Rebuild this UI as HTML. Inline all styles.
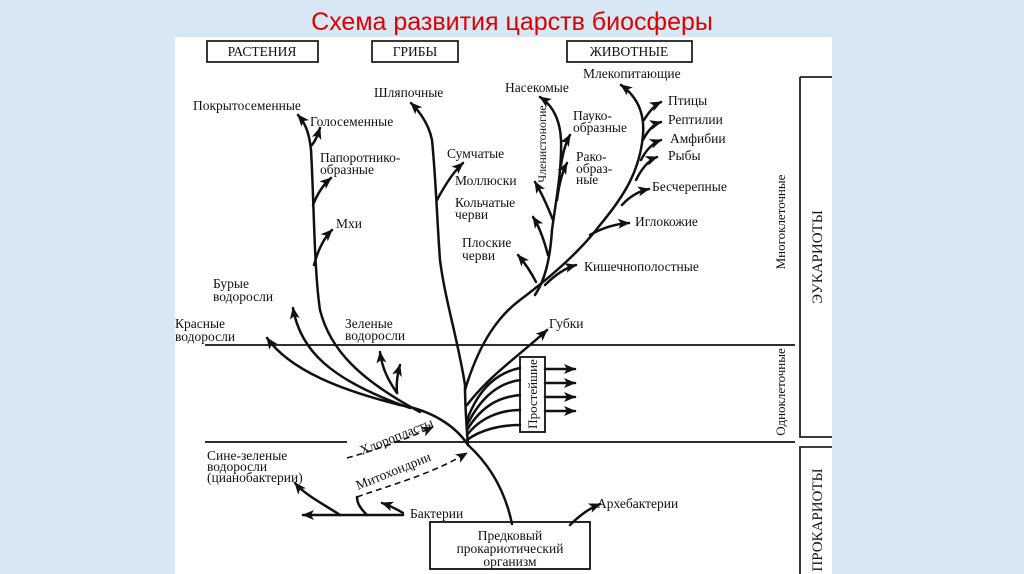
<!DOCTYPE html>
<html><head><meta charset="utf-8"><style>
html,body{margin:0;padding:0;width:1024px;height:574px;overflow:hidden;background:#d8e7f4;}
svg{display:block}
</style></head><body>
<svg width="1024" height="574" viewBox="0 0 1024 574" xmlns="http://www.w3.org/2000/svg">
<defs>
<marker id="a" markerWidth="12" markerHeight="10" refX="11" refY="5" orient="auto" markerUnits="userSpaceOnUse"><path d="M0,0 L12,5 L0,10 L3,5 z" fill="#111"/></marker>
</defs>
<rect width="1024" height="574" fill="#d8e7f4"/>
<rect x="175" y="37" width="657" height="537" fill="#fff"/>
<text x="512" y="30" font-family="Liberation Sans, sans-serif" font-size="25" fill="#e00000" text-anchor="middle">Схема развития царств биосферы</text>
<g font-family="Liberation Serif, serif" font-size="13.5" fill="#111">
<rect x="207" y="41" width="111" height="21" fill="none" stroke="#222" stroke-width="1.8"/>
<text x="262" y="56" text-anchor="middle">РАСТЕНИЯ</text>
<rect x="372" y="41" width="86" height="21" fill="none" stroke="#222" stroke-width="1.8"/>
<text x="415" y="56" text-anchor="middle">ГРИБЫ</text>
<rect x="567" y="41" width="125" height="21" fill="none" stroke="#222" stroke-width="1.8"/>
<text x="629" y="56" text-anchor="middle">ЖИВОТНЫЕ</text>
<path d="M800,77 H832 M800,77 V437 H832" fill="none" stroke="#222" stroke-width="1.8"/>
<path d="M832,447 H800 V574" fill="none" stroke="#222" stroke-width="1.8"/>
<line x1="205" y1="345" x2="795" y2="345" stroke="#111" stroke-width="1.8"/>
<line x1="205" y1="442" x2="347" y2="442" stroke="#111" stroke-width="1.8"/>
<line x1="394" y1="442" x2="795" y2="442" stroke="#111" stroke-width="1.8"/>
<rect x="430" y="522" width="160" height="47" fill="#fff" stroke="#111" stroke-width="1.8"/>
<text x="510" y="540" text-anchor="middle">Предковый</text>
<text x="510" y="553" text-anchor="middle">прокариотический</text>
<text x="510" y="566" text-anchor="middle">организм</text>
<rect x="520" y="357" width="25" height="75" fill="#fff" stroke="#111" stroke-width="1.8"/>
<text transform="translate(537,394) rotate(-90)" text-anchor="middle" font-size="13">Простейшие</text>
<text transform="translate(546,144) rotate(-90)" text-anchor="middle" font-size="12">Членистоногие</text>
<text transform="translate(785,222) rotate(-90)" text-anchor="middle" font-size="13">Многоклеточные</text>
<text transform="translate(785,392) rotate(-90)" text-anchor="middle" font-size="13">Одноклеточные</text>
<text transform="translate(822,257) rotate(-90)" text-anchor="middle" font-size="15">ЭУКАРИОТЫ</text>
<text transform="translate(822,520) rotate(-90)" text-anchor="middle" font-size="15">ПРОКАРИОТЫ</text>
<text x="583" y="78">Млекопитающие</text>
<text x="505" y="92">Насекомые</text>
<text x="374" y="97">Шляпочные</text>
<text x="193" y="110">Покрытосеменные</text>
<text x="310" y="126">Голосеменные</text>
<text x="668" y="105">Птицы</text>
<text x="668" y="124">Рептилии</text>
<text x="573" y="120">Пауко-</text><text x="573" y="132">образные</text>
<text x="670" y="143">Амфибии</text>
<text x="447" y="158">Сумчатые</text>
<text x="320" y="162">Папоротнико-</text><text x="320" y="174">образные</text>
<text x="668" y="160">Рыбы</text>
<text x="576" y="161">Рако-</text><text x="576" y="173">образ-</text><text x="576" y="184">ные</text>
<text x="455" y="185">Моллюски</text>
<text x="652" y="191">Бесчерепные</text>
<text x="455" y="207">Кольчатые</text><text x="455" y="219">черви</text>
<text x="635" y="226">Иглокожие</text>
<text x="336" y="228">Мхи</text>
<text x="462" y="247">Плоские</text><text x="462" y="260">черви</text>
<text x="584" y="271">Кишечнополостные</text>
<text x="213" y="288">Бурые</text><text x="213" y="301">водоросли</text>
<text x="175" y="328">Красные</text><text x="175" y="341">водоросли</text>
<text x="345" y="328">Зеленые</text><text x="345" y="340">водоросли</text>
<text x="549" y="328">Губки</text>
<text x="207" y="460">Сине-зеленые</text><text x="207" y="471">водоросли</text><text x="207" y="482">(цианобактерии)</text>
<text x="410" y="518">Бактерии</text>
<text x="597" y="508">Архебактерии</text>
<text transform="translate(362,455) rotate(-22)">Хлоропласты</text>
<text transform="translate(358,490) rotate(-22)">Митохондрии</text>
</g>
<g fill="none" stroke="#111" stroke-width="2.5" stroke-linecap="round">
<path d="M512,524 C505,490 490,465 468,445"/>
<path d="M468,445 C455,425 430,410 400,405"/>
<path d="M400,405 C340,390 290,370 267,338" marker-end="url(#a)"/>
<path d="M410,408 C330,380 300,350 293,308" marker-end="url(#a)"/>
<path d="M420,412 C360,380 330,350 320,310 C314,270 314,200 311,150 C309,130 304,122 298,115" marker-end="url(#a)"/>
<path d="M397,393 C388,380 382,368 380,352" marker-end="url(#a)"/>
<path d="M397,393 C396,382 398,372 400,365" marker-end="url(#a)"/>
<path d="M312,145 C316,140 318,134 320,128" marker-end="url(#a)"/>
<path d="M313,205 C318,192 324,184 331,178" marker-end="url(#a)"/>
<path d="M314,265 C318,250 324,238 332,230" marker-end="url(#a)"/>
<path d="M468,445 C466,420 465,400 465,385 C458,340 445,300 440,260 C437,220 436,180 432,140 C429,125 420,112 411,103" marker-end="url(#a)"/>
<path d="M437,200 C445,185 453,172 463,163" marker-end="url(#a)"/>
<path d="M465,390 C480,340 500,315 520,300 C560,270 585,245 600,225 C625,195 640,170 643,135 C645,110 635,95 621,85" marker-end="url(#a)"/>
<path d="M644,120 C650,110 655,105 661,102" marker-end="url(#a)"/>
<path d="M643,140 C648,130 654,124 661,122" marker-end="url(#a)"/>
<path d="M641,160 C646,150 653,143 661,140" marker-end="url(#a)"/>
<path d="M636,180 C642,168 649,160 657,157" marker-end="url(#a)"/>
<path d="M622,205 C630,196 640,191 649,189" marker-end="url(#a)"/>
<path d="M590,235 C602,228 615,224 629,223" marker-end="url(#a)"/>
<path d="M545,285 C555,275 565,268 576,265" marker-end="url(#a)"/>
<path d="M535,295 C545,280 550,260 552,230 C556,200 562,170 561,140 C560,118 552,105 540,97" marker-end="url(#a)"/>
<path d="M561,165 C563,152 566,142 570,135" marker-end="url(#a)"/>
<path d="M557,200 C559,185 562,172 567,163" marker-end="url(#a)"/>
<path d="M553,220 C547,205 541,192 535,182" marker-end="url(#a)"/>
<path d="M548,255 C544,240 539,226 533,217" marker-end="url(#a)"/>
<path d="M536,282 C530,270 524,262 518,255" marker-end="url(#a)"/>
<path d="M467,405 C490,375 520,355 547,330" marker-end="url(#a)"/>
<path d="M467,420 C480,385 500,372 520,368"/>
<path d="M467,425 C482,395 500,383 520,380"/>
<path d="M467,430 C482,405 500,397 520,395"/>
<path d="M467,435 C480,418 500,410 520,410"/>
<path d="M467,440 C480,430 500,425 520,425"/>
<path d="M545,369 H575" marker-end="url(#a)"/>
<path d="M545,383 H575" marker-end="url(#a)"/>
<path d="M545,397 H575" marker-end="url(#a)"/>
<path d="M545,411 H575" marker-end="url(#a)"/>
<path d="M403,515 H303" marker-end="url(#a)"/>
<path d="M340,515 C325,505 305,495 295,483" marker-end="url(#a)"/>
<path d="M367,515 C360,508 357,503 357,497"/>
<path d="M403,513 C395,508 388,505 382,503" marker-end="url(#a)"/>
<path d="M570,525 C580,515 590,508 600,504" marker-end="url(#a)"/>
</g>
<g fill="none" stroke="#111" stroke-width="1.6" stroke-dasharray="6,4">
<path d="M347,458 C375,450 405,440 433,427" marker-end="url(#a)"/>
<path d="M357,497 C390,485 430,475 467,453" marker-end="url(#a)"/>
</g>
</svg>
</body></html>
